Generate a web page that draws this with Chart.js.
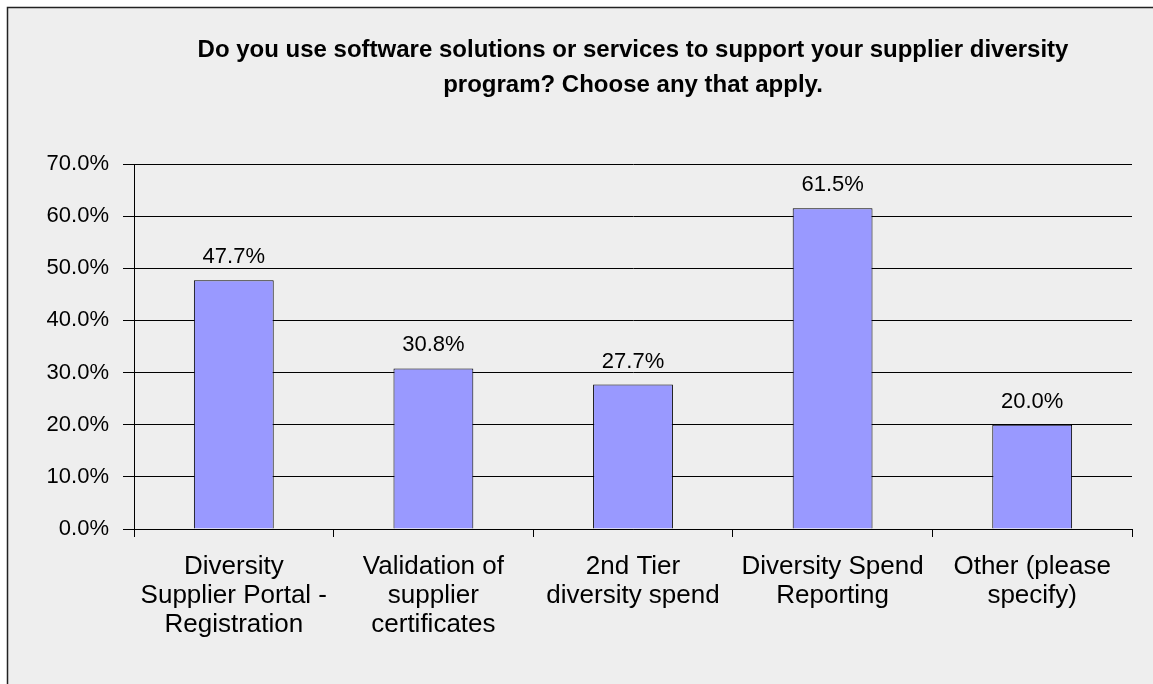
<!DOCTYPE html>
<html>
<head>
<meta charset="utf-8">
<script src="https://cdn.jsdelivr.net/npm/chart.js@4"></script>
<style>
html,body{margin:0;padding:0;background:#fff;}
canvas{display:block;}
</style>
</head>
<body>
<canvas id="c" width="1153" height="684"></canvas>
<script>
const titleLines = ["Do you use software solutions or services to support your supplier diversity", "program? Choose any that apply."];
const categories = [
  ["Diversity", "Supplier Portal -", "Registration"],
  ["Validation of", "supplier", "certificates"],
  ["2nd Tier", "diversity spend"],
  ["Diversity Spend", "Reporting"],
  ["Other (please", "specify)"]
];
const values = [47.7, 30.8, 27.7, 61.5, 20.0];
const yTicksMin = 0, yTicksMax = 70, yTicksStep = 10;

const FONT = "'Liberation Sans', Arial, sans-serif";

const framePlugin = {
  id: 'frame',
  beforeDraw(chart) {
    const ctx = chart.ctx;
    ctx.save();
    ctx.fillStyle = '#ffffff';
    ctx.fillRect(0, 0, chart.width, chart.height);
    ctx.fillStyle = '#eeeeee';
    ctx.fillRect(7, 7, chart.width - 7, chart.height - 7);
    ctx.strokeStyle = '#222222';
    ctx.lineWidth = 1.5;
    ctx.beginPath();
    ctx.moveTo(7.5, chart.height);
    ctx.lineTo(7.5, 7.5);
    ctx.lineTo(chart.width, 7.5);
    ctx.stroke();
    ctx.restore();
  }
};

const titlePlugin = {
  id: 'titleText',
  afterDraw(chart) {
    const ctx = chart.ctx;
    const a = chart.chartArea;
    const cx = (a.left + a.right) / 2;
    ctx.save();
    ctx.fillStyle = '#000';
    ctx.font = "bold 24px " + FONT;
    ctx.textAlign = 'center';
    ctx.textBaseline = 'alphabetic';
    ctx.fillText(titleLines[0], cx, 57);
    ctx.fillText(titleLines[1], cx, 92);
    ctx.restore();
  }
};

const labelPlugin = {
  id: 'barLabels',
  afterDatasetsDraw(chart) {
    const ctx = chart.ctx;
    const meta = chart.getDatasetMeta(0);
    ctx.save();
    ctx.fillStyle = '#000';
    ctx.font = "22px " + FONT;
    ctx.textAlign = 'center';
    ctx.textBaseline = 'middle';
    meta.data.forEach((bar, i) => {
      ctx.fillText(values[i].toFixed(1) + '%', bar.x, bar.y - 23);
    });
    ctx.restore();
  }
};

new Chart(document.getElementById('c'), {
  type: 'bar',
  data: {
    labels: categories,
    datasets: [{
      data: values,
      backgroundColor: '#9999ff',
      borderColor: '#000000',
      borderWidth: 1,
      categoryPercentage: 1.0,
      barPercentage: 0.4
    }]
  },
  options: {
    responsive: false,
    animation: false,
    devicePixelRatio: 1,
    layout: { padding: { top: 164, right: 21, bottom: 0, left: 0 } },
    plugins: { legend: { display: false }, tooltip: { enabled: false }, title: { display: false } },
    scales: {
      x: {
        offset: true,
        afterFit(scale) { scale.height = 684 - 529; },
        grid: { offset: true, drawOnChartArea: false, drawTicks: true, tickLength: 8, color: '#000', lineWidth: 1 },
        border: { display: true, color: '#000', width: 1 },
        ticks: { color: '#000', font: { family: FONT, size: 26, lineHeight: '29px' }, padding: 15, maxRotation: 0, autoSkip: false }
      },
      y: {
        min: yTicksMin, max: yTicksMax,
        afterFit(scale) { scale.width = 134; },
        grid: { color: '#000', lineWidth: 1, drawTicks: true, tickLength: 11 },
        border: { display: true, color: '#000', width: 1 },
        ticks: {
          stepSize: yTicksStep, color: '#000', padding: 14,
          font: { family: FONT, size: 22 },
          callback: v => v.toFixed(1) + '%'
        }
      }
    }
  },
  plugins: [framePlugin, titlePlugin, labelPlugin]
});
</script>
</body>
</html>
